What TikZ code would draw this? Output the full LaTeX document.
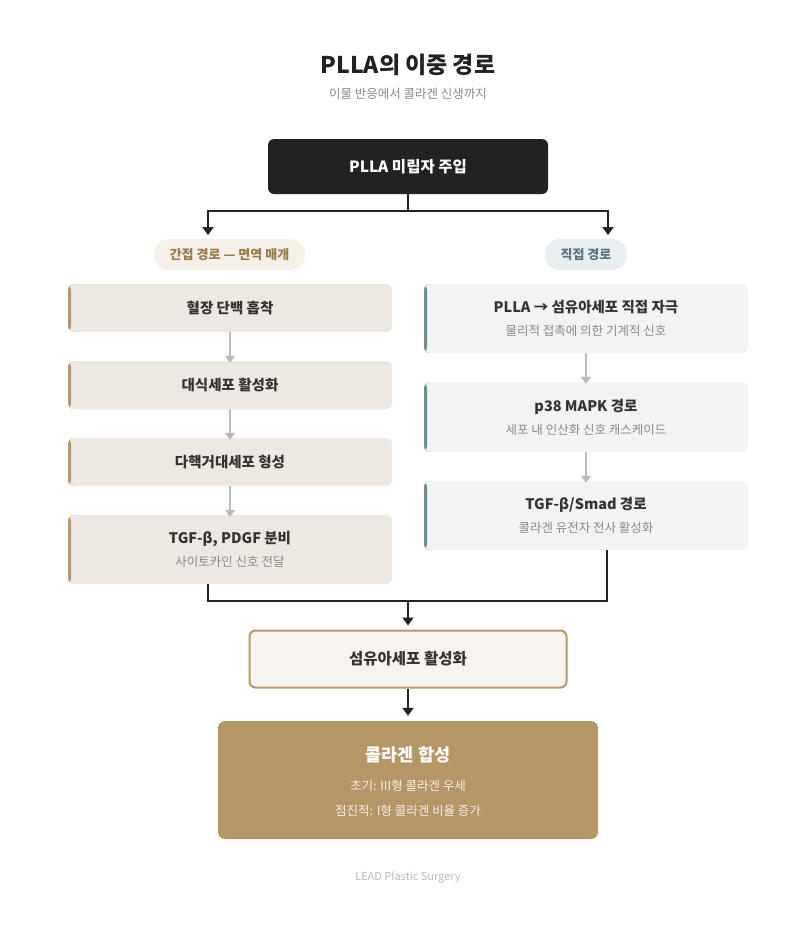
\documentclass[tikz,border=0pt]{standalone}
\usepackage{fontspec}
\setmainfont{Noto Sans CJK KR}
\usetikzlibrary{arrows.meta}
\definecolor{ink}{HTML}{222222}
\definecolor{txt}{HTML}{333333}
\definecolor{subtxt}{HTML}{8A8A8A}
\definecolor{warmfill}{HTML}{EDE8E1}
\definecolor{warmbar}{HTML}{B8976A}
\definecolor{coolfill}{HTML}{F3F3F3}
\definecolor{coolbar}{HTML}{6B8E9E}
\definecolor{pillwarm}{HTML}{F5F0E8}
\definecolor{pillwarmtxt}{HTML}{9A7A4A}
\definecolor{pillcool}{HTML}{E9EEF1}
\definecolor{pillcooltxt}{HTML}{557585}
\definecolor{fibfill}{HTML}{F7F4EF}
\definecolor{gold}{HTML}{B59667}
\definecolor{goldtxt}{HTML}{F6EFE2}
\definecolor{grayarrow}{HTML}{BBBBBB}
\tikzset{
  stepL/.style={rounded corners=6pt, fill=warmfill, minimum width=324pt, align=center,
    path picture={\fill[warmbar] (path picture bounding box.south west) rectangle ([xshift=3pt]path picture bounding box.north west);}},
  stepR/.style={rounded corners=6pt, fill=coolfill, minimum width=324pt, align=center,
    path picture={\fill[coolbar] (path picture bounding box.south west) rectangle ([xshift=3pt]path picture bounding box.north west);}},
  conn/.style={draw=ink, line width=2pt, -{Triangle[width=11pt,length=8pt]}},
  line/.style={draw=ink, line width=2pt},
  garrow/.style={draw=grayarrow, line width=2pt, -{Triangle[width=10pt,length=7pt]}},
  main/.style={font=\fontsize{14.5}{17}\selectfont\bfseries, text=txt},
}
\newcommand{\subl}[1]{{\fontsize{12.5}{15}\selectfont\mdseries\color{subtxt}#1}}
\begin{document}
\begin{tikzpicture}[x=1pt,y=-1pt]
\useasboundingbox[fill=white] (0,0) rectangle (801,937);
% title
\node[font=\fontsize{23}{27}\selectfont\bfseries, text=ink] (title) at (408,65) {PLLA의 이중 경로};
\node[font=\fontsize{12.5}{15}\selectfont, text=subtxt] (subtitle) at (408,94) {이물 반응에서 콜라겐 신생까지};
% top
\node[fill=ink, rounded corners=6pt, minimum width=280pt, minimum height=55pt, text=white,
  font=\fontsize{15.5}{18}\selectfont\bfseries] (top) at (408,166.5) {PLLA 미립자 주입};
\coordinate (split) at (408,211);
\coordinate (aL) at (208,235);
\coordinate (aR) at (608,235);
\draw[line] (top.south) -- (split);
\draw[conn] (split) -| (aL);
\draw[conn] (split) -| (aR);
% pills
\node[fill=pillwarm, rounded corners=15pt, minimum width=151pt, minimum height=31pt,
  text=pillwarmtxt, font=\fontsize{13}{15}\selectfont\bfseries] (pillL) at (229.5,254.5) {간접 경로 — 면역 매개};
\node[fill=pillcool, rounded corners=15pt, minimum width=82pt, minimum height=31pt,
  text=pillcooltxt, font=\fontsize{13}{15}\selectfont\bfseries] (pillR) at (586,254.5) {직접 경로};
% left column
\node[stepL, minimum height=48pt, main] (L1) at (230,308) {혈장 단백 흡착};
\node[stepL, minimum height=48pt, main] (L2) at (230,385) {대식세포 활성화};
\node[stepL, minimum height=48pt, main] (L3) at (230,462) {다핵거대세포 형성};
\node[stepL, minimum height=69pt, main] (L4) at (230,549.5) {TGF-β, PDGF 분비\\[6pt]\subl{사이토카인 신호 전달}};
\draw[garrow] (L1.south) -- ([yshift=-2pt]L2.north);
\draw[garrow] (L2.south) -- ([yshift=-2pt]L3.north);
\draw[garrow] (L3.south) -- ([yshift=-2pt]L4.north);
% right column
\node[stepR, minimum height=69pt, main] (R1) at (586,318.5) {PLLA → 섬유아세포 직접 자극\\[6pt]\subl{물리적 접촉에 의한 기계적 신호}};
\node[stepR, minimum height=70pt, main] (R2) at (586,417) {p38 MAPK 경로\\[6pt]\subl{세포 내 인산화 신호 캐스케이드}};
\node[stepR, minimum height=69pt, main] (R3) at (586,515.5) {TGF-β/Smad 경로\\[6pt]\subl{콜라겐 유전자 전사 활성화}};
\draw[garrow] (R1.south) -- ([yshift=-2pt]R2.north);
\draw[garrow] (R2.south) -- ([yshift=-2pt]R3.north);
% merge
\coordinate (mL) at (208,584);
\coordinate (mR) at (607,550);
\coordinate (mC) at (408,601);
\draw[line] (mL) |- (mC) -| (mR);
% fibroblast
\node[fill=fibfill, draw=warmbar, line width=2pt, rounded corners=6pt, minimum width=317pt, minimum height=57pt,
  text=txt, font=\fontsize{15.5}{18}\selectfont\bfseries] (fib) at (408,659) {섬유아세포 활성화};
\draw[conn] (mC) -- ([yshift=4pt]fib.north);
% collagen
\node[fill=gold, rounded corners=7pt, minimum width=380pt, minimum height=118pt] (col) at (408,780) {};
\node[text=white, font=\fontsize{17.5}{20}\selectfont\bfseries] (colT) at (408,755) {콜라겐 합성};
\node[text=goldtxt, font=\fontsize{12.5}{15}\selectfont] (colA) at (408,786) {초기: III형 콜라겐 우세};
\node[text=goldtxt, font=\fontsize{12.5}{15}\selectfont] (colB) at (408,811) {점진적: I형 콜라겐 비율 증가};
\draw[conn] (fib.south) -- ([yshift=5pt]col.north);
% footer
\node[text=grayarrow, font=\fontsize{11}{13}\selectfont] (foot) at (408,877) {LEAD Plastic Surgery};
\end{tikzpicture}
\end{document}
